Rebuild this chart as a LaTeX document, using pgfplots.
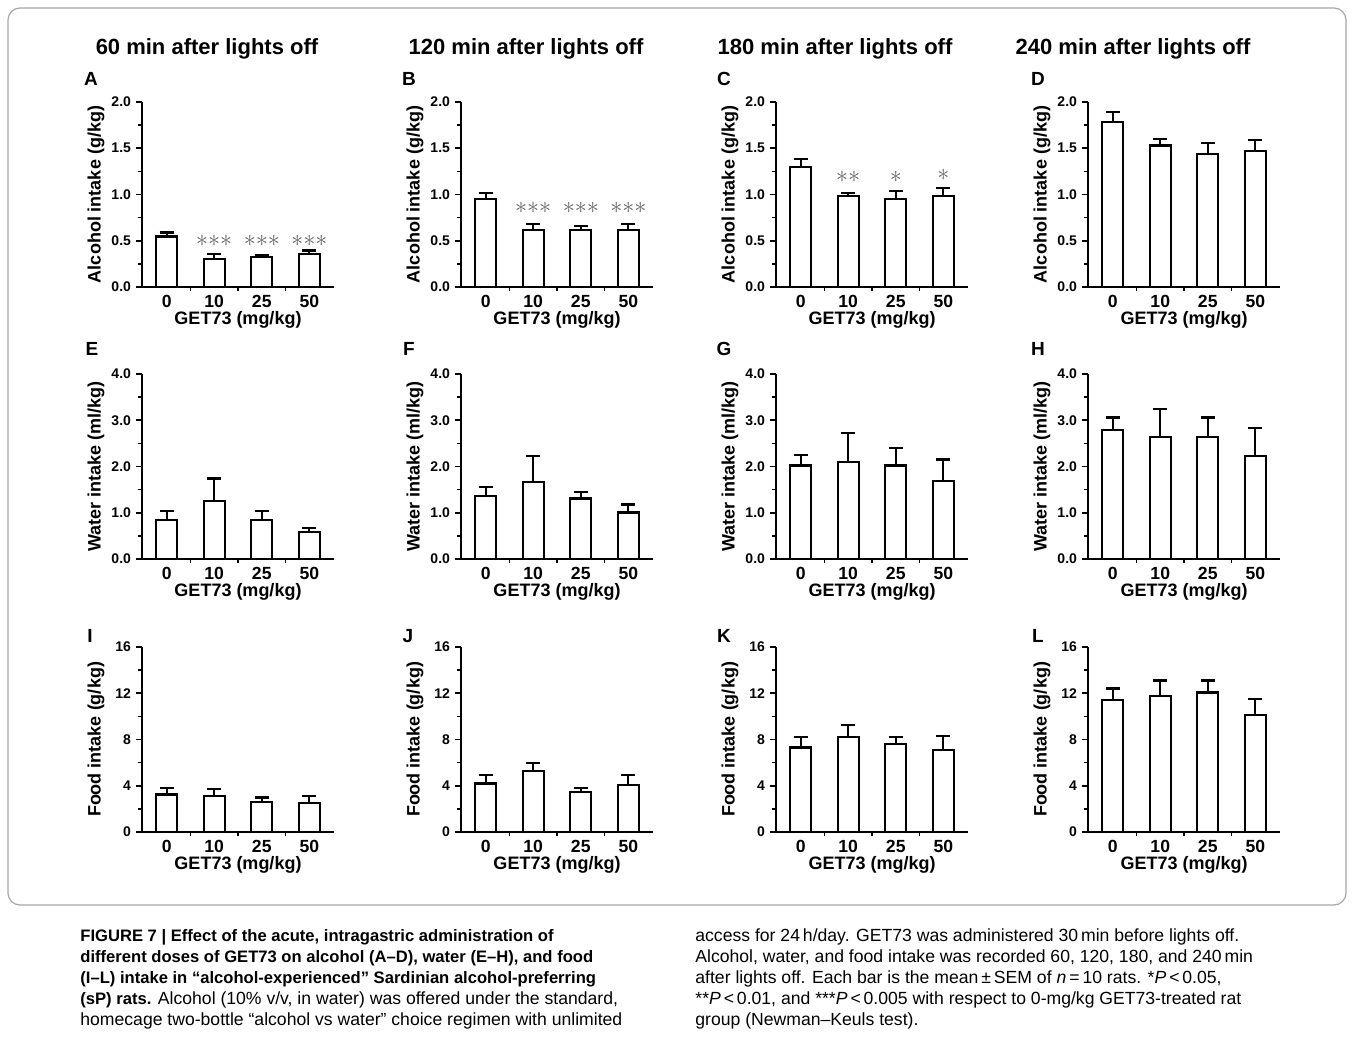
\documentclass[border=0pt]{standalone}
\usepackage{fontspec}
\setmainfont{Liberation Sans}
\usepackage{pgfplots}
\pgfplotsset{compat=1.18}

\pgfplotsset{
  panel/.style={
    scale only axis, width=96pt, height=92.5pt, anchor=south west,
    xmin=-0.52, xmax=3.52, ymin=0, clip=false,
    axis x line*=bottom, axis y line*=left,
    axis line style={line width=1.1pt, -, black},
    xtick={0,1,2,3}, xticklabels={0,10,25,50},
    minor xtick={0.5,1.5,2.5},
    major x tick style={draw=none},
    every tick/.style={line width=0.8pt, black},
    tick align=outside,
    major tick length=3pt, minor tick length=2pt,
    minor y tick num=1,
    /pgf/number format/assume math mode=true,
    xticklabel style={font=\bfseries\fontsize{8.8}{10}\selectfont, yshift=2.5pt},
    yticklabel style={font=\bfseries\fontsize{7}{8}\selectfont, xshift=1pt},
    xlabel={GET73 (mg/kg)},
    every axis x label/.style={at={(axis description cs:0.5,-0.178)}, anchor=center,
      font=\bfseries\fontsize{9}{10}\selectfont},
    every axis y label/.style={at={(axis description cs:-0.24,0.5)}, rotate=90, anchor=center,
      font=\bfseries\fontsize{9}{10}\selectfont},
  },
  alc/.style={panel, ymax=2.0, ytick={0,0.5,1,1.5,2},
    yticklabel style={/pgf/number format/.cd, fixed, fixed zerofill, precision=1},
    ylabel={Alcohol intake (g/kg)}},
  wat/.style={panel, ymax=4.0, ytick={0,1,2,3,4},
    yticklabel style={/pgf/number format/.cd, fixed, fixed zerofill, precision=1},
    ylabel={Water intake (ml/kg)}},
  food/.style={panel, ymax=16, ytick={0,4,8,12,16},
    ylabel={Food intake (g/kg)}},
  bars/.style={ybar, bar width=0.44, fill=white, draw=black, line width=1.1pt,
    error bars/.cd, y dir=plus, y explicit,
    error bar style={line width=1.1pt, black},
    error mark options={rotate=90, mark size=3.5pt, line width=1.1pt, black}},
}
\newcommand{\stars}[1]{\textcolor{black!60}{\fontsize{12}{12}\selectfont$#1$}}
\newcommand{\ttl}{\bfseries\fontsize{11}{12}\selectfont}
\newcommand{\plet}{\bfseries\fontsize{9.5}{10}\selectfont}

\begin{document}
\begin{tikzpicture}[x=0.5pt, y=-0.5pt]
\path[use as bounding box, fill=white] (0,0) rectangle (1354,1052);
\draw[black!35, line width=0.6pt, rounded corners=6pt] (8,8) rectangle (1346,905);

% titles
\node[font=\ttl] at (207,49) {60 min after lights off};
\node[font=\ttl] at (526,49) {120 min after lights off};
\node[font=\ttl] at (835,49) {180 min after lights off};
\node[font=\ttl] at (1133,49) {240 min after lights off};

% panel letters
\foreach \l/\x/\y in {A/91/79, B/409/79, C/724/79, D/1038/79,
                      E/92/349, F/409/349, G/724/349, H/1038/349,
                      I/90/636, J/408/636, K/724/636, L/1038/636}
  \node[font=\plet] at (\x,\y) {\l};

% ---------- Row 1: alcohol ----------
\begin{axis}[alc, at={(71pt,-143.5pt)}]
\addplot[bars] coordinates {(0,0.546) +- (0,0.044) (1,0.305) +- (0,0.05) (2,0.323) +- (0,0.027) (3,0.36) +- (0,0.035)};
\node at (axis cs:1,0.50) {\stars{{\ast}{\ast}{\ast}}};
\node at (axis cs:2,0.50) {\stars{{\ast}{\ast}{\ast}}};
\node at (axis cs:3,0.50) {\stars{{\ast}{\ast}{\ast}}};
\end{axis}
\begin{axis}[alc, at={(230.5pt,-143.5pt)}]
\addplot[bars] coordinates {(0,0.95) +- (0,0.07) (1,0.62) +- (0,0.06) (2,0.62) +- (0,0.04) (3,0.62) +- (0,0.06)};
\node at (axis cs:1,0.85) {\stars{{\ast}{\ast}{\ast}}};
\node at (axis cs:2,0.85) {\stars{{\ast}{\ast}{\ast}}};
\node at (axis cs:3,0.85) {\stars{{\ast}{\ast}{\ast}}};
\end{axis}
\begin{axis}[alc, at={(388pt,-143.5pt)}]
\addplot[bars] coordinates {(0,1.30) +- (0,0.08) (1,0.98) +- (0,0.04) (2,0.95) +- (0,0.09) (3,0.98) +- (0,0.09)};
\node at (axis cs:1,1.19) {\stars{{\ast}{\ast}}};
\node at (axis cs:2,1.19) {\stars{{\ast}}};
\node at (axis cs:3,1.21) {\stars{{\ast}}};
\end{axis}
\begin{axis}[alc, at={(544pt,-143.5pt)}]
\addplot[bars] coordinates {(0,1.78) +- (0,0.11) (1,1.53) +- (0,0.07) (2,1.44) +- (0,0.12) (3,1.47) +- (0,0.12)};
\end{axis}

% ---------- Row 2: water ----------
\begin{axis}[wat, at={(71pt,-279.5pt)}]
\addplot[bars] coordinates {(0,0.85) +- (0,0.18) (1,1.25) +- (0,0.49) (2,0.85) +- (0,0.18) (3,0.59) +- (0,0.085)};
\end{axis}
\begin{axis}[wat, at={(230.5pt,-279.5pt)}]
\addplot[bars] coordinates {(0,1.37) +- (0,0.18) (1,1.67) +- (0,0.55) (2,1.31) +- (0,0.14) (3,1.005) +- (0,0.175)};
\end{axis}
\begin{axis}[wat, at={(388pt,-279.5pt)}]
\addplot[bars] coordinates {(0,2.02) +- (0,0.23) (1,2.10) +- (0,0.63) (2,2.02) +- (0,0.38) (3,1.69) +- (0,0.46)};
\end{axis}
\begin{axis}[wat, at={(544pt,-279.5pt)}]
\addplot[bars] coordinates {(0,2.79) +- (0,0.27) (1,2.64) +- (0,0.61) (2,2.64) +- (0,0.42) (3,2.23) +- (0,0.60)};
\end{axis}

% ---------- Row 3: food ----------
\begin{axis}[food, at={(71pt,-416pt)}]
\addplot[bars] coordinates {(0,3.25) +- (0,0.57) (1,3.13) +- (0,0.58) (2,2.61) +- (0,0.38) (3,2.53) +- (0,0.60)};
\end{axis}
\begin{axis}[food, at={(230.5pt,-416pt)}]
\addplot[bars] coordinates {(0,4.20) +- (0,0.71) (1,5.26) +- (0,0.69) (2,3.48) +- (0,0.34) (3,4.05) +- (0,0.86)};
\end{axis}
\begin{axis}[food, at={(388pt,-416pt)}]
\addplot[bars] coordinates {(0,7.30) +- (0,0.89) (1,8.25) +- (0,1.03) (2,7.61) +- (0,0.64) (3,7.07) +- (0,1.23)};
\end{axis}
\begin{axis}[food, at={(544pt,-416pt)}]
\addplot[bars] coordinates {(0,11.43) +- (0,0.98) (1,11.78) +- (0,1.32) (2,12.07) +- (0,1.03) (3,10.11) +- (0,1.38)};
\end{axis}

% ---------- caption ----------
\begin{scope}[every node/.style={anchor=base west, inner sep=0pt}]
\node at (80,941) {\bfseries\fontsize{8.3}{10}\selectfont FIGURE 7 | Effect of the acute, intragastric administration of};
\node at (80,962) {\bfseries\fontsize{8.3}{10}\selectfont different doses of GET73 on alcohol (A–D), water (E–H), and food};
\node at (80,983) {\bfseries\fontsize{8.3}{10}\selectfont (I–L) intake in “alcohol-experienced” Sardinian alcohol-preferring};
\node at (80,1004) {\fontsize{8.8}{10}\selectfont{\bfseries\fontsize{8.3}{10}\selectfont (sP) rats.} Alcohol (10\% v/v, in water) was offered under the standard,};
\node at (80,1025) {\fontsize{8.8}{10}\selectfont homecage two-bottle “alcohol vs water” choice regimen with unlimited};
\node at (695,941) {\fontsize{8.8}{10}\selectfont access for 24\,h/day. GET73 was administered 30\,min before lights off.};
\node at (695,962) {\fontsize{8.8}{10}\selectfont Alcohol, water, and food intake was recorded 60, 120, 180, and 240\,min};
\node at (695,983) {\fontsize{8.8}{10}\selectfont after lights off. Each bar is the mean\,±\,SEM of \textit{n}\,=\,10 rats. *\textit{P}\,<\,0.05,};
\node at (695,1004) {\fontsize{8.8}{10}\selectfont **\textit{P}\,<\,0.01, and ***\textit{P}\,<\,0.005 with respect to 0-mg/kg GET73-treated rat};
\node at (695,1025) {\fontsize{8.8}{10}\selectfont group (Newman–Keuls test).};
\end{scope}
\end{tikzpicture}
\end{document}
